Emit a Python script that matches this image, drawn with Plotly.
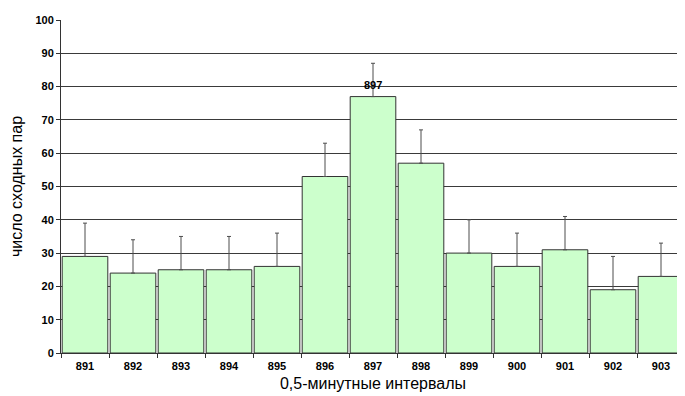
import plotly.graph_objects as go

categories = ["891", "892", "893", "894", "895", "896", "897", "898", "899", "900", "901", "902", "903"]
values = [29, 24, 25, 25, 26, 53, 77, 57, 30, 26, 31, 19, 23]
errors = [10, 10, 10, 10, 10, 10, 10, 10, 10, 10, 10, 10, 10]
y_ticks = [0, 10, 20, 30, 40, 50, 60, 70, 80, 90, 100]
peak_label = "897"

FONT = "Liberation Sans, Arial"
peak_idx = categories.index(peak_label)

fig = go.Figure()
fig.add_trace(go.Bar(
    x=categories, y=values,
    marker=dict(color="#CCFFCC", line=dict(color="#333333", width=1)),
    error_y=dict(type="data", array=errors, symmetric=False, arrayminus=[0]*len(errors),
                 color="#4d4d4d", thickness=1, width=2),
))
fig.add_annotation(x=peak_idx, y=values[peak_idx], text="<b>" + peak_label + "</b>",
                   showarrow=False, yanchor="bottom", yshift=4,
                   font=dict(family=FONT, size=11, color="black"))

# page body adds an 8px offset; figure is sized to fill the remaining window
fig.update_layout(
    width=677, height=388,
    margin=dict(l=53, r=0, t=12, b=43),
    paper_bgcolor="white", plot_bgcolor="white",
    bargap=0.05, showlegend=False,
    font=dict(family=FONT, color="black"),
)
fig.update_xaxes(
    type="category", range=[-0.5, len(categories) - 0.5],
    showline=True, linecolor="#333333", linewidth=1,
    ticks="outside", tickson="boundaries", ticklen=4, tickcolor="#333333",
    ticklabelstandoff=3,
    tickfont=dict(size=11, family=FONT, weight="bold", color="black"),
    title=dict(text="0,5-минутные интервалы", font=dict(size=16, color="black"), standoff=6),
    showgrid=False, automargin=False,
)
fig.update_yaxes(
    range=[0, 100], tickvals=y_ticks, showline=True, linecolor="#333333", linewidth=1,
    ticks="outside", ticklen=4, tickcolor="#333333",
    showgrid=True, gridcolor="#3a3a3a", gridwidth=1,
    tickfont=dict(size=11, family=FONT, weight="bold", color="black"),
    title=dict(text="число сходных пар", font=dict(size=16, color="black"), standoff=12),
    zeroline=False, automargin=False,
)
fig.write_html("out.html")
